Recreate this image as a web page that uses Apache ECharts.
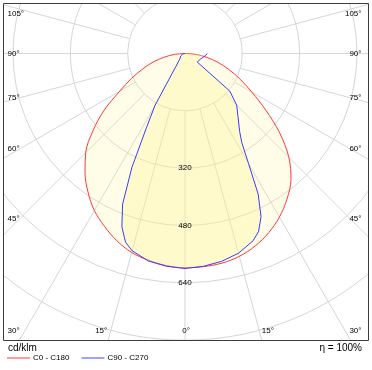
<!DOCTYPE html>
<html><head><meta charset="utf-8">
<script src="https://cdn.jsdelivr.net/npm/echarts@6/dist/echarts.min.js"></script>
<style>html,body{margin:0;padding:0;background:#fff}#c{width:372px;height:370px}</style>
</head><body><div id="c"></div>
<script>
// ---- data (cd/klm) ----
const redGamma = [0,5,10,15,20,25,30,35,40,45,50,55,60,65,70,75,80,85,90];
const redC0    = [598,597,594,586,572,552,527,496,460,410,345,275,215,170,130,95,62,32,0];
const redC180  = [598,594,586,575,556,532,506,472,434,392,335,275,210,165,125,92,58,30,0];
const blueGammaC90  = [0,5,10,15,20,22.5,25,27.5,30,32.5,35,40,45,50,55,60,65,70,75,80,85,90];
const blueC90       = [600,596,589,577,556,537,502,442,355,295,266,230,204,163,42,43,44,46,49,53,58,62];
const blueGammaC270 = [0,5,10,15,17.5,20,22.5,25,27.5,30,35,40,45,50,55,60,65,70,75,80,85,90];
const blueC270      = [600,596,588,570,552,515,455,350,232,168,45,27,19,17,16,14,12,10,8,6,3,0];
const radiusLabels = [320, 480, 640];
const sideAngleLabels = [105, 90, 75, 60, 45, 30];
const bottomAngleLabels = [-15, 0, 15];
const seriesNames = ['C0 - C180', 'C90 - C270'];
const unitText = 'cd/klm';
const etaText = '\u03b7 = 100%';

// ---- layout ----
const CX = 185, CY = 53.5, R = 344, RMAX = 960, RSTEP = 160;
const FRAME = {x0: 3, y0: 3, x1: 368, y1: 340};
const FONT = 'Liberation Sans, Arial, sans-serif';

function buildCurve(gL, vL, gR, vR) {
  const pts = [];
  for (let i = gL.length - 1; i >= 0; i--) pts.push([vL[i], -gL[i]]);
  for (let i = 0; i < gR.length; i++) { if (gR[i] === 0) continue; pts.push([vR[i], gR[i]]); }
  return pts;
}

const chart = echarts.init(document.getElementById('c'), null, {renderer: 'canvas'});
const gridColor = '#d6d6d6';
const angleBase = {type: 'value', min: -180, max: 180, startAngle: 90, clockwise: false,
  axisLine: {show: false}, axisTick: {show: false}, axisLabel: {show: false}};

chart.setOption({
  animation: false,
  backgroundColor: '#ffffff',
  polar: [
    {center: [CX, CY], radius: R},
    {center: [CX, CY], radius: [R * RSTEP / RMAX, R]}
  ],
  angleAxis: [
    Object.assign({polarIndex: 0, splitLine: {show: false}}, angleBase),
    Object.assign({polarIndex: 1, interval: 15, splitLine: {show: true, lineStyle: {color: gridColor, width: 1}}}, angleBase)
  ],
  radiusAxis: [
    {polarIndex: 0, type: 'value', min: 0, max: RMAX, interval: RSTEP,
     axisLine: {show: false}, axisTick: {show: false}, axisLabel: {show: false},
     splitLine: {show: true, lineStyle: {color: gridColor, width: 1}}},
    {polarIndex: 1, type: 'value', min: 0, max: 1, show: false,
     axisLine: {show: false}, axisTick: {show: false}, axisLabel: {show: false}, splitLine: {show: false}}
  ],
  legend: {
    left: 7, top: 354, padding: 0, itemGap: 12, itemWidth: 23, itemHeight: 2, icon: 'rect', z: 100,
    textStyle: {fontSize: 8, fontFamily: FONT, color: '#000', padding: [0, 0, 0, -2]},
    data: [
      {name: seriesNames[0], itemStyle: {color: '#ff9c9c'}},
      {name: seriesNames[1], itemStyle: {color: '#a0a0ff'}}
    ]
  },
  series: [
    {name: seriesNames[0], type: 'line', coordinateSystem: 'polar', polarIndex: 0,
     data: buildCurve(redGamma, redC180, redGamma, redC0), symbol: 'none', z: 3, smooth: 0.35,
     lineStyle: {color: '#ff3a3a', width: 1}, itemStyle: {color: '#ff3a3a'},
     areaStyle: {color: 'rgba(255,246,140,0.30)', origin: 'start'}},
    {name: seriesNames[1], type: 'line', coordinateSystem: 'polar', polarIndex: 0,
     data: buildCurve(blueGammaC270, blueC270, blueGammaC90, blueC90), symbol: 'none', z: 4,
     lineStyle: {color: '#3a3aff', width: 1}, itemStyle: {color: '#3a3aff'},
     areaStyle: {color: 'rgba(255,245,135,0.40)', origin: 'start'}}
  ]
});

// ---- overlay: clipping, frame, labels ----
const g = [];
g.push({type: 'rect', z: 50, shape: {x: 0, y: 0, width: 372, height: FRAME.y0}, style: {fill: '#fff'}});
g.push({type: 'rect', z: 50, shape: {x: 0, y: 0, width: FRAME.x0, height: 370}, style: {fill: '#fff'}});
g.push({type: 'rect', z: 50, shape: {x: FRAME.x1 + 1, y: 0, width: 372 - FRAME.x1, height: 370}, style: {fill: '#fff'}});
g.push({type: 'rect', z: 50, shape: {x: 0, y: FRAME.y1 + 1, width: 372, height: 370 - FRAME.y1}, style: {fill: '#fff'}});
g.push({type: 'rect', z: 60, shape: {x: FRAME.x0 + 0.5, y: FRAME.y0 + 0.5, width: FRAME.x1 - FRAME.x0, height: FRAME.y1 - FRAME.y0},
  style: {fill: null, stroke: '#3c3c3c', lineWidth: 1}});

function txt(x, y, s, align, size) {
  g.push({type: 'text', z: 70, x: x, y: y,
    style: {text: s, fill: '#000', font: (size || 8) + 'px ' + FONT, textAlign: align, textVerticalAlign: 'middle'}});
}
// radius labels on the nadir ray
radiusLabels.forEach(function (v) {
  let p = null;
  try { p = chart.convertToPixel({polarIndex: 0}, [v, 0]); } catch (e) { p = null; }
  if (!p || isNaN(p[1])) p = [CX, CY + v / RMAX * R];
  txt(p[0], p[1], String(v), 'center', 8);
});
// side angle labels
const labDist = 165.5;
sideAngleLabels.forEach(function (a) {
  const rad = a * Math.PI / 180;
  let y = CY + labDist * Math.cos(rad) / Math.sin(rad);
  y = Math.max(14, Math.min(331, y));
  txt(7.5, y, a + '\u00b0', 'left', 8);
  txt(361.5, y, a + '\u00b0', 'right', 8);
});
bottomAngleLabels.forEach(function (a) {
  const rad = Math.abs(a) * Math.PI / 180;
  const dx = (FRAME.y1 - CY) * Math.tan(rad);
  if (a < 0) txt(CX - dx - 1, 331, Math.abs(a) + '\u00b0', 'right', 8);
  else if (a > 0) txt(CX + dx, 331, a + '\u00b0', 'left', 8);
  else txt(CX + 1, 331, '0\u00b0', 'center', 8);
});
txt(8, 348, unitText, 'left', 10);
txt(362, 348, etaText, 'right', 10);
chart.setOption({graphic: {elements: g}});
</script></body></html>
